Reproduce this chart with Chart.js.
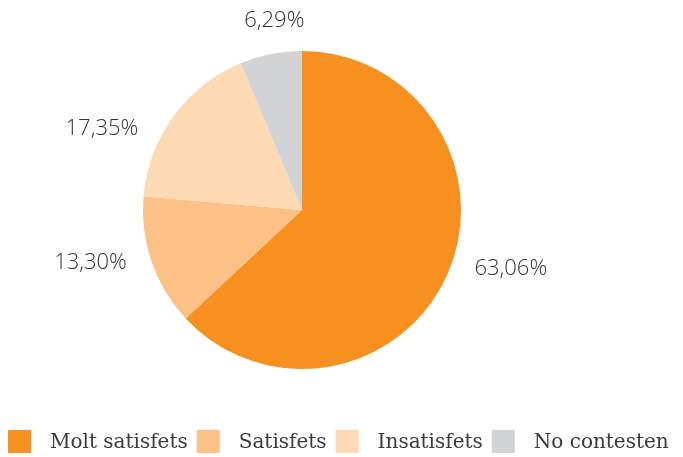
<!DOCTYPE html>
<html>
<head>
<meta charset="utf-8">
<script src="https://cdn.jsdelivr.net/npm/chart.js@4.4.1/dist/chart.umd.min.js"></script>
<style>
  html, body { margin: 0; padding: 0; background: #fff; }
  #wrap { width: 683px; height: 457px; }
</style>
</head>
<body>
<div id="wrap"><canvas id="pieChart"></canvas></div>
<script>
// ===== dades =====
const categories = ["Molt satisfets", "Satisfets", "Insatisfets", "No contesten"];
const percentages = [63.06, 13.30, 17.35, 6.29];
const sliceColors = ["#F7901E", "#FDC187", "#FDD9B4", "#D1D3D4"];

// ajust de les etiquetes: desviació angular (graus) i distància al centre
const labelNudgeDeg = [-7.7, 5, -14, 3];
const labelDist = [217, 218, 216, 191];

const fmt = v => v.toFixed(2).replace(".", ",") + "%";

// etiquetes de percentatge fora del pastís
const outerLabels = {
  id: "outerLabels",
  afterDatasetsDraw(chart) {
    const { ctx } = chart;
    const arcs = chart.getDatasetMeta(0).data;
    ctx.save();
    ctx.font = "300 22px 'Open Sans'";
    ctx.fillStyle = "#333";
    ctx.textAlign = "center";
    ctx.textBaseline = "middle";
    arcs.forEach((arc, i) => {
      const mid = (arc.startAngle + arc.endAngle) / 2 + labelNudgeDeg[i] * Math.PI / 180;
      const x = arc.x + Math.cos(mid) * labelDist[i];
      const y = arc.y + Math.sin(mid) * labelDist[i];
      ctx.fillText(fmt(percentages[i]), x, y);
    });
    ctx.restore();
  }
};

// llegenda horitzontal a la part inferior
const bottomLegend = {
  id: "bottomLegend",
  afterDraw(chart) {
    const { ctx } = chart;
    const box = 23, gapText = 19, gapItem = 9;
    const top = 430;
    let x = 8;
    ctx.save();
    ctx.font = "20px 'DejaVu Serif'";
    ctx.textBaseline = "middle";
    ctx.fillStyle = "#3a3a3a";
    categories.forEach((name, i) => {
      ctx.fillStyle = sliceColors[i];
      ctx.fillRect(x, top, box, box);
      x += box + gapText;
      ctx.fillStyle = "#3a3a3a";
      ctx.fillText(name, x, top + box / 2 + 1);
      x += ctx.measureText(name).width + gapItem;
    });
    ctx.restore();
  }
};

new Chart(document.getElementById("pieChart"), {
  type: "pie",
  data: {
    labels: categories,
    datasets: [{
      data: percentages,
      backgroundColor: sliceColors,
      borderWidth: 0
    }]
  },
  options: {
    responsive: true,
    maintainAspectRatio: false,
    animation: false,
    layout: { padding: { top: 51, bottom: 88, left: 0, right: 79 } },
    plugins: {
      legend: { display: false },
      tooltip: { enabled: false }
    }
  },
  plugins: [outerLabels, bottomLegend]
});
</script>
</body>
</html>
